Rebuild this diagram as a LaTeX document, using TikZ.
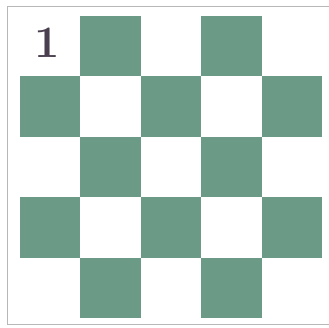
\documentclass[tikz,border=0pt]{standalone}
\usetikzlibrary{calc}
\definecolor{boardgreen}{HTML}{6B9A86}
\definecolor{numcol}{HTML}{4A3F4F}
\definecolor{framecol}{HTML}{B8B8B8}
\begin{document}
\begin{tikzpicture}[x=1pt,y=-1pt,
  cellsq/.style={fill=boardgreen,draw=none},
  frameline/.style={draw=framecol,line width=1pt}]
\useasboundingbox (0,0) rectangle (329,327);
\fill[white] (0,0) rectangle (329,327);
% frame
\draw[frameline] (7.5,325) -- (7.5,6) -- (329,6);
\draw[frameline] (7.5,324) -- (329,324);
% checkerboard
\foreach \r in {0,...,4}{
  \foreach \c in {0,...,4}{
    \pgfmathtruncatemacro{\s}{mod(\r+\c,2)}
    \ifnum\s=1
      \fill[cellsq] ({20+60.4*\c},{16+60.4*\r}) rectangle ({20+60.4*(\c+1)},{16+60.4*(\r+1)});
    \fi
  }
}
\node[text=numcol,font=\fontsize{45}{45}\selectfont\bfseries,inner sep=0pt] (num) at (47,42.5) {1};
\end{tikzpicture}
\end{document}
